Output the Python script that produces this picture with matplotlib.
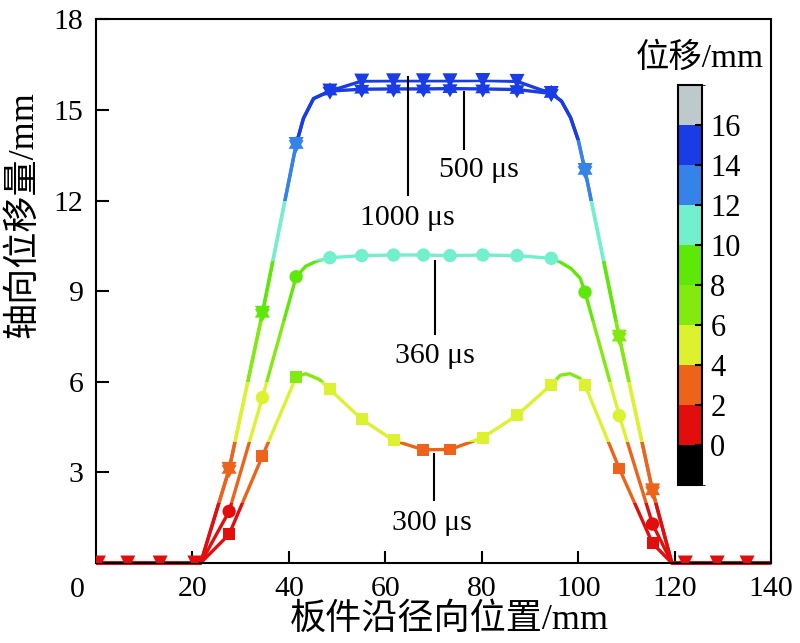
import matplotlib.pyplot as plt
import numpy as np
from matplotlib.colors import ListedColormap, BoundaryNorm
from matplotlib.cm import ScalarMappable
from matplotlib.patches import Rectangle
from matplotlib.path import Path

plt.rcParams['font.family'] = ['Liberation Serif', 'Noto Sans CJK SC']

# marker positions along the plate radius (mm)
x_mark = [0.5, 6.6, 13.3, 20.5, 27.6, 34.5, 41.5, 48.5, 55.1, 61.7, 67.9, 73.4,
          80.2, 87.3, 94.4, 101.4, 108.5, 115.4, 122.2, 128.8, 135.0]

# axial displacement at the markers (mm)
y300 = [0, 0, 0, 0, 0.95, 3.54, 6.16, 5.75, 4.76, 4.06, 3.75, 3.76, 4.15, 4.89,
        5.91, 5.89, 3.13, 0.65, 0, 0, 0]
y360 = [0, 0, 0, 0, 1.71, 5.48, 9.48, 10.11, 10.18, 10.2, 10.2, 10.18, 10.2, 10.18,
        10.09, 8.97, 4.88, 1.29, 0, 0, 0]
y500 = [0, 0, 0, 0, 3.1, 8.27, 13.86, 15.63, 15.69, 15.7, 15.7, 15.71, 15.7, 15.68,
        15.55, 13.0, 7.48, 2.39, 0, 0, 0]
y1000 = [0, 0, 0, 0, 3.1, 8.27, 13.86, 15.63, 15.96, 15.97, 15.97, 15.97, 15.98, 15.95,
         15.55, 13.0, 7.48, 2.39, 0, 0, 0]

# extra points read along the smooth curves between markers
x300_extra = [0, 21.7, 43.5, 46.3, 96.3, 98.3, 100.3, 119.4, 140]
y300_extra = [0, 0, 6.27, 6.08, 6.22, 6.27, 6.12, 0, 0]
x360_extra = [0, 21.7, 43.5, 45.8, 96.0, 98.5, 100.4, 119.4, 140]
y360_extra = [0, 0, 9.83, 10.0, 9.99, 9.75, 9.43, 0, 0]
xtop_extra = [0, 21.7, 43.0, 45.1, 96.5, 98.4, 100.0, 119.4, 140]
ytop_extra = [0, 0, 14.72, 15.38, 15.3, 14.75, 14.0, 0, 0]

# colour scale
levels = [-2, 0, 2, 4, 6, 8, 10, 12, 14, 16, 18]
band_colors = ['#000000', '#E30D0D', '#EC6319', '#DCF22F', '#82EA0F',
               '#5EE807', '#72EFCC', '#3582E8', '#1A3CE6', '#BEC9CC']
cmap = ListedColormap(band_colors)
norm = BoundaryNorm(levels, cmap.N)

labels = ['300 μs', '360 μs', '500 μs', '1000 μs']

fig = plt.figure(figsize=(8, 6.43), dpi=100)
ax = fig.add_axes([0.12, 0.1244, 0.844, 0.8453])

hexagram = Path.unit_regular_star(6, 1 / np.sqrt(3))


def draw_curve(ym, xe, ye, marker, ms, zero_marks=False):
    x = np.array(x_mark + xe)
    y = np.array(ym + ye)
    order = np.argsort(x, kind='stable')
    x, y = x[order], y[order]
    # colour the line by value band: draw once per band, clipped to it
    for i in range(1, len(band_colors)):
        lo = levels[i] if i > 1 else -5
        hi = levels[i + 1] if i < len(band_colors) - 1 else 30
        ln, = ax.plot(x, y, color=band_colors[i], lw=2.4, zorder=2,
                      solid_capstyle='butt')
        ln.set_clip_path(Rectangle((-10, lo), 160, hi - lo, transform=ax.transData))
    xm = np.array(x_mark)
    ymk = np.array(ym)
    keep = np.ones(len(ymk), bool) if zero_marks else ymk > 0
    ax.scatter(xm[keep], ymk[keep], c=cmap(norm(ymk[keep])), marker=marker,
               s=ms ** 2, linewidths=0, zorder=3)


draw_curve(y300, x300_extra, y300_extra, 's', 8.6)
draw_curve(y360, x360_extra, y360_extra, 'o', 9.6)
draw_curve(y500, xtop_extra, ytop_extra, hexagram, 12.5)
draw_curve(y1000, xtop_extra, ytop_extra, 'v', 10.8, zero_marks=True)

# leader lines and labels
ax.plot([64.7, 64.7], [16.1, 12.2], color='black', lw=1.5, zorder=4)
ax.plot([76.4, 76.4], [15.6, 13.7], color='black', lw=1.5, zorder=4)
ax.plot([70.3, 70.3], [10.0, 7.6], color='black', lw=1.5, zorder=1)
ax.plot([70.0, 70.0], [3.6, 2.1], color='black', lw=1.5, zorder=1)
ax.text(64.5, 11.43, labels[3], ha='center', va='center', fontsize=21.5)
ax.text(79.3, 13.02, labels[2], ha='center', va='center', fontsize=21.5)
ax.text(70.3, 6.85, labels[1], ha='center', va='center', fontsize=21.5)
ax.text(69.7, 1.34, labels[0], ha='center', va='center', fontsize=21.5)

ax.set_xlim(0, 140)
ax.set_ylim(0, 18)
ax.set_xticks(range(20, 141, 20))
ax.set_yticks(range(3, 19, 3))
ax.tick_params(direction='in', length=9, width=1.5, labelsize=21.5)
ax.tick_params(axis='x', pad=9)
ax.tick_params(axis='y', pad=9)
for sp in ax.spines.values():
    sp.set_linewidth(1.5)
ax.text(-0.028, -0.05, '0', transform=ax.transAxes, ha='center', va='center',
        fontsize=21.5)

ax.set_xlabel('板件沿径向位置/mm', fontsize=26, va='center')
ax.xaxis.set_label_coords(0.524, -0.105)
ax.set_ylabel('轴向位移量/mm', fontsize=26, va='center')
ax.yaxis.set_label_coords(-0.108, 0.642)

# colour bar
cax = fig.add_axes([0.8475, 0.2457, 0.03, 0.622])
cb = fig.colorbar(ScalarMappable(norm=norm, cmap=cmap), cax=cax,
                  ticks=range(0, 17, 2))
cb.outline.set_linewidth(1.5)
cax.tick_params(direction='in', length=5, width=1.5, labelsize=22, pad=6)
fig.text(700 / 800, 1 - 58 / 643, '位移/mm', ha='center', va='center', fontsize=24)

fig.savefig('out.png', dpi=100)
